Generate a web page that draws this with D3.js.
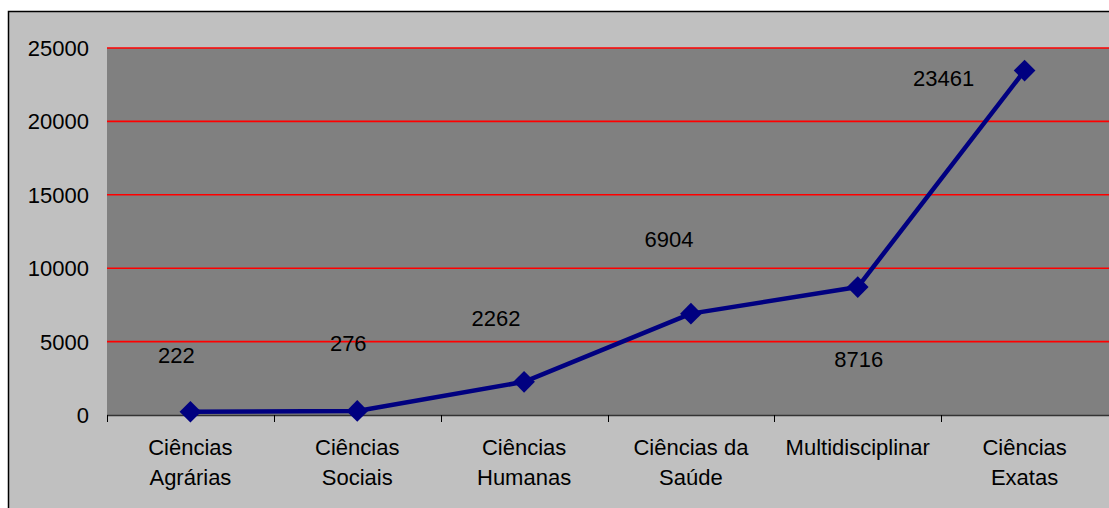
<!DOCTYPE html>
<html>
<head>
<meta charset="utf-8">
<script src="https://cdn.jsdelivr.net/npm/d3@7"></script>
<style>
  html, body { margin: 0; padding: 0; background: #ffffff; }
  svg { display: block; }
  text { font-family: "Liberation Sans", Arial, sans-serif; fill: #000; }
</style>
</head>
<body>
<svg id="chart" width="1109" height="508"></svg>
<script>
// ---- data ----
const categories = [
  ["Ciências", "Agrárias"],
  ["Ciências", "Sociais"],
  ["Ciências", "Humanas"],
  ["Ciências da", "Saúde"],
  ["Multidisciplinar"],
  ["Ciências", "Exatas"]
];
const values = [222, 276, 2262, 6904, 8716, 23461];
const yTicks = [0, 5000, 10000, 15000, 20000, 25000];

// label placement (pixel offsets from each point, as in the original)
const labelOffsets = [[-14, -57], [-9, -68], [-28, -64], [-22, -75], [1, 72], [-81, 7]];

// ---- layout ----
const W = 1109, H = 508;
const FS = 22;
const plot = { left: 107, right: 1108, top: 48, bottom: 415 };
const svg = d3.select("#chart");

// outer chart area
svg.append("rect")
  .attr("x", 8.5).attr("y", 11.5)
  .attr("width", W + 20).attr("height", H + 20)
  .attr("fill", "#c0c0c0").attr("stroke", "#000").attr("stroke-width", 1.5);

const x = d3.scaleBand()
  .domain(d3.range(categories.length))
  .range([plot.left, plot.right])
  .padding(0);
const y = d3.scaleLinear().domain([0, 25000]).range([plot.bottom, plot.top]);

// plot area
svg.append("rect")
  .attr("x", plot.left).attr("y", plot.top)
  .attr("width", plot.right - plot.left + 5).attr("height", plot.bottom - plot.top)
  .attr("fill", "#808080");

// gridlines
svg.append("g").selectAll("line")
  .data(yTicks.filter(t => t > 0))
  .join("line")
  .attr("x1", plot.left).attr("x2", W)
  .attr("y1", d => y(d)).attr("y2", d => y(d))
  .attr("stroke", "#ff0000").attr("stroke-width", 1.6);

// y axis labels
svg.append("g").selectAll("text")
  .data(yTicks)
  .join("text")
  .attr("x", 89).attr("y", d => y(d))
  .attr("dy", "0.36em")
  .attr("text-anchor", "end")
  .attr("font-size", FS)
  .text(d => d);

// x axis line
svg.append("line")
  .attr("x1", plot.left).attr("x2", W)
  .attr("y1", plot.bottom + 0.5).attr("y2", plot.bottom + 0.5)
  .attr("stroke", "#333").attr("stroke-width", 1.5);

// x ticks at category boundaries
const bounds = d3.range(categories.length).map(i => x(i));
svg.append("g").selectAll("line")
  .data(bounds)
  .join("line")
  .attr("x1", d => Math.round(d) + 0.5).attr("x2", d => Math.round(d) + 0.5)
  .attr("y1", plot.bottom).attr("y2", plot.bottom + 7)
  .attr("stroke", "#000").attr("stroke-width", 1);

// category labels
const cx = i => x(i) + x.bandwidth() / 2;
const catG = svg.append("g").selectAll("text")
  .data(categories)
  .join("text")
  .attr("text-anchor", "middle")
  .attr("font-size", FS);
catG.selectAll("tspan")
  .data((d, i) => d.map(s => ({ s, i })))
  .join("tspan")
  .attr("x", d => cx(d.i))
  .attr("y", (d, j) => 447 + j * 30)
  .attr("dy", "0.36em")
  .text(d => d.s);

// line
const line = d3.line().x((d, i) => cx(i)).y(d => y(d));
svg.append("path")
  .datum(values)
  .attr("d", line)
  .attr("fill", "none")
  .attr("stroke", "#000080")
  .attr("stroke-width", 4.5)
  .attr("stroke-linejoin", "round");

// diamond markers
const diamond = d3.symbol().type(d3.symbolSquare).size(235);
svg.append("g").selectAll("path")
  .data(values)
  .join("path")
  .attr("d", diamond)
  .attr("transform", (d, i) => `translate(${cx(i)},${y(d)}) rotate(45)`)
  .attr("fill", "#000080");

// data labels
svg.append("g").selectAll("text")
  .data(values)
  .join("text")
  .attr("x", (d, i) => cx(i) + labelOffsets[i][0])
  .attr("y", (d, i) => y(d) + labelOffsets[i][1])
  .attr("dy", "0.36em")
  .attr("text-anchor", "middle")
  .attr("font-size", FS)
  .text(d => d);
</script>
</body>
</html>
